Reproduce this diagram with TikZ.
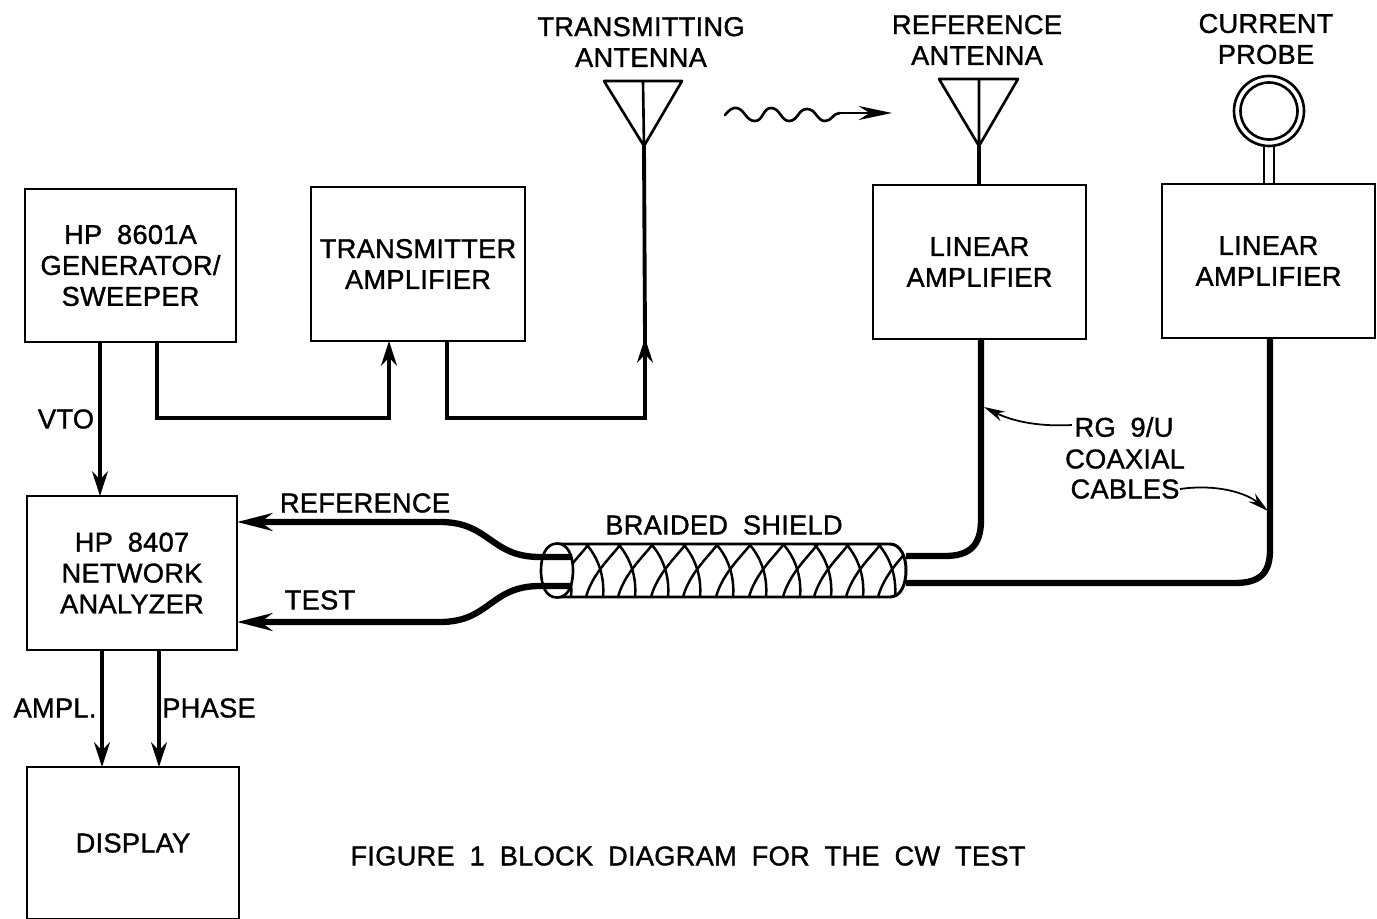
\documentclass[tikz,border=0pt]{standalone}
\usepackage{fontspec}
\setmainfont[LetterSpace=1, WordSpace=1.9, FakeBold=1.2]{Liberation Sans}
\usetikzlibrary{arrows.meta}

\begin{document}
\begin{tikzpicture}[x = 0.02cm, y = -0.02cm]
\tikzstyle{blockStyle} = [draw, line width = 1.4pt, align = center, inner sep = 0pt, outer sep = 0pt, font = \fontsize{15.5}{17.6}\selectfont]
\tikzstyle{labelStyle} = [align = center, inner sep = 0pt, font = \fontsize{15.5}{17.6}\selectfont]
\tikzstyle{wireStyle} = [line width = 2.2pt, -{Stealth[length = 14pt, width = 9pt]}]
\tikzstyle{plainWireStyle} = [line width = 2.2pt]
\tikzstyle{coaxStyle} = [line width = 3.6pt]
\tikzstyle{coaxArrowStyle} = [line width = 3.6pt, {Stealth[length = 20pt, width = 10pt]}-]
\tikzstyle{leaderStyle} = [line width = 1pt, -{Stealth[length = 12pt, width = 6pt]}]
\tikzstyle{thinStyle} = [line width = 1.5pt, line join = round]
\tikzstyle{braidStyle} = [line width = 1.4pt]
\useasboundingbox (0, 0) rectangle (1377, 919);
% blocks
\node[blockStyle, minimum width = 4.22cm, minimum height = 3.06cm] (gen) at (130.5, 265.5) {HP 8601A\\GENERATOR/\\SWEEPER};
\node[blockStyle, minimum width = 4.28cm, minimum height = 3.08cm] (txamp) at (418, 264) {TRANSMITTER\\AMPLIFIER};
\node[blockStyle, minimum width = 4.26cm, minimum height = 3.08cm] (refamp) at (979.5, 262) {LINEAR\\AMPLIFIER};
\node[blockStyle, minimum width = 4.26cm, minimum height = 3.08cm] (curamp) at (1268.5, 261) {LINEAR\\AMPLIFIER};
\node[blockStyle, minimum width = 4.2cm, minimum height = 3.08cm] (nwa) at (132, 573) {HP 8407\\NETWORK\\ANALYZER};
\node[blockStyle, minimum width = 4.24cm, minimum height = 3.04cm] (disp) at (133, 843) {DISPLAY};
% labels
\node[labelStyle] (txlabel) at (641, 42) {TRANSMITTING\\ANTENNA};
\node[labelStyle] (reflabel) at (977, 40) {REFERENCE\\ANTENNA};
\node[labelStyle] (problabel) at (1266, 39) {CURRENT\\PROBE};
\node[labelStyle] (vto) at (66, 419) {VTO};
\node[labelStyle] (refsig) at (365, 503) {REFERENCE};
\node[labelStyle] (testsig) at (320, 600) {TEST};
\node[labelStyle] (braid) at (724, 525) {BRAIDED SHIELD};
\node[labelStyle] (rg) at (1124, 427) {RG 9/U};
\node[labelStyle] (coaxial) at (1125, 459) {COAXIAL};
\node[labelStyle] (cables) at (1125, 489) {CABLES};
\node[labelStyle] (ampl) at (55, 708) {AMPL.};
\node[labelStyle] (phase) at (209, 708) {PHASE};
\node[labelStyle] (caption) at (688, 856) {FIGURE 1\hspace{0.3cm}BLOCK DIAGRAM FOR THE CW TEST};
% points on the blocks
\coordinate (genA) at (100, 342);
\coordinate (nwaA) at (100, 496);
\coordinate (genB) at (157, 342);
\coordinate (genC) at (157, 418);
\coordinate (txampA) at (389, 418);
\coordinate (txampB) at (389, 341);
\coordinate (txampC) at (447, 341);
\coordinate (txampD) at (447, 418);
\coordinate (txantA) at (645, 418);
\coordinate (txantB) at (645, 338);
\coordinate (txantC) at (644, 146);
\coordinate (nwaB) at (102, 650);
\coordinate (dispA) at (102, 767);
\coordinate (nwaC) at (159, 650);
\coordinate (dispB) at (159, 767);
\draw[wireStyle] (genA) -- (nwaA);
\draw[wireStyle] (genB) -- (genC) -- (txampA) -- (txampB);
\draw[plainWireStyle] (txampC) -- (txampD) -- (txantA) -- (txantB);
\draw[wireStyle] (txantA) -- (txantB);
\draw[plainWireStyle] (txantB) -- (txantC);
\draw[wireStyle] (nwaB) -- (dispA);
\draw[wireStyle] (nwaC) -- (dispB);
% antennas
\coordinate (txtipA) at (604, 81);
\coordinate (txtipB) at (682, 81);
\coordinate (txtop) at (643, 81);
\draw[thinStyle] (txtipA) -- (txtipB) -- (txantC) -- cycle (txtop) -- (txantC);
\coordinate (reftipA) at (939, 79);
\coordinate (reftipB) at (1018, 79);
\coordinate (reftop) at (979, 79);
\coordinate (refbase) at (979, 146);
\coordinate (refamptop) at (979, 185);
\draw[thinStyle] (reftipA) -- (reftipB) -- (refbase) -- cycle (reftop) -- (refbase);
\draw[plainWireStyle] (refbase) -- (refamptop);
% radiated wave
\coordinate (waveA) at (725, 115);
\coordinate (waveB) at (840, 113);
\coordinate (waveC) at (892, 113);
\draw[thinStyle, line cap = round] (waveA) .. controls (729, 110) and (733, 107) .. (737, 108) .. controls (745, 110) and (746, 121) .. (755, 121) .. controls (763, 121) and (763, 108) .. (771, 108) .. controls (780, 108) and (781, 121) .. (789, 121) .. controls (798, 121) and (798, 109) .. (807, 109) .. controls (816, 109) and (817, 121) .. (825, 121) .. controls (832, 121) and (833, 113) .. (waveB);
\draw[thinStyle, -{Stealth[length = 19pt, width = 8pt]}] (waveB) -- (waveC);
% current probe
\coordinate (probeA) at (1264, 146);
\coordinate (probeB) at (1264, 184);
\coordinate (probeC) at (1274, 146);
\coordinate (probeD) at (1274, 184);
\node[draw, circle, line width = 1.5pt, minimum size = 1.4cm, inner sep = 0pt] (loopouter) at (1269, 111) {};
\node[draw, circle, line width = 1.5pt, minimum size = 1.14cm, inner sep = 0pt] (loopinner) at (1269, 111) {};
\draw[thinStyle] (probeA) -- (probeB) (probeC) -- (probeD);
% braided shield
\begin{scope}
\clip (557, 544) -- (890, 544) .. controls (900, 544) and (906, 556) .. (906, 570) .. controls (906, 586) and (900, 597) .. (890, 597) -- (557, 597) -- cycle;
\foreach \x in {568, 600, 632, 665, 697, 730, 763, 797, 828, 860, 892} {
  \draw[braidStyle] (\x - 14, 544) .. controls (\x - 3, 556) and (\x + 5, 575) .. (\x + 3, 597);
  \draw[braidStyle] (\x + 21, 544) .. controls (\x + 8, 560) and (\x - 8, 575) .. (\x - 14, 597);
}
\end{scope}
\draw[line width = 1.7pt] (557, 544) -- (890, 544) .. controls (900, 544) and (906, 556) .. (906, 570) .. controls (906, 586) and (900, 597) .. (890, 597) -- (557, 597);
\draw[line width = 1.5pt, fill = white] (557, 543.5) .. controls (546, 543.5) and (541, 556) .. (541, 570) .. controls (541, 586) and (546, 597.5) .. (557, 597.5) .. controls (568, 597.5) and (573, 586) .. (573, 570) .. controls (573, 556) and (568, 543.5) .. (557, 543.5);
% coaxial cables
\coordinate (refcoax) at (981, 339);
\coordinate (curcoax) at (1270, 338);
\coordinate (shieldR) at (906, 556);
\coordinate (shieldS) at (906, 583);
\coordinate (shieldA) at (572, 557);
\coordinate (shieldB) at (572, 586);
\coordinate (nwaRef) at (237, 522);
\coordinate (nwaTest) at (237, 622);
\draw[coaxStyle] (refcoax) -- (981, 520) .. controls (981, 545) and (970, 556) .. (945, 556) -- (shieldR);
\draw[coaxStyle] (curcoax) -- (1270, 550) .. controls (1270, 573) and (1260, 583) .. (1235, 583) -- (shieldS);
\draw[coaxArrowStyle] (nwaRef) -- (440, 522) .. controls (490, 522) and (490, 557) .. (540, 557) -- (shieldA);
\draw[coaxArrowStyle] (nwaTest) -- (440, 622) .. controls (490, 622) and (490, 586) .. (540, 586) -- (shieldB);
% cable notes
\coordinate (rgstart) at (1072, 425);
\coordinate (rgend) at (984, 407);
\coordinate (cabstart) at (1180, 489);
\coordinate (cabend) at (1268, 511);
\draw[leaderStyle] (rgstart) .. controls (1035, 427) and (1010, 420) .. (rgend);
\draw[leaderStyle] (cabstart) .. controls (1215, 484) and (1245, 492) .. (cabend);
\end{tikzpicture}
\end{document}
